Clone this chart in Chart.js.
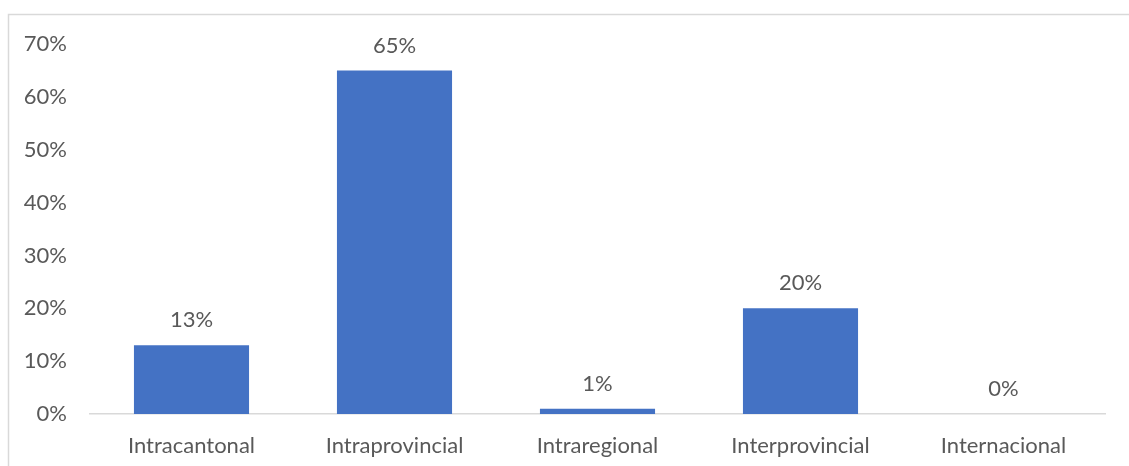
<!DOCTYPE html>
<html>
<head>
<meta charset="utf-8">
<script src="https://cdn.jsdelivr.net/npm/chart.js@4/dist/chart.umd.min.js"></script>
<style>
  html, body { margin: 0; padding: 0; background: #fff; }
  #wrap { width: 1129px; height: 466px; }
</style>
</head>
<body>
<div id="wrap"><canvas id="chart" width="1129" height="466"></canvas></div>
<script>
const categories = ["Intracantonal", "Intraprovincial", "Intraregional", "Interprovincial", "Internacional"];
const shares = [13, 65, 1, 20, 0];
const yTicks = [0, 10, 20, 30, 40, 50, 60, 70];

const BAR = "#4472C4";
const TEXT = "#595959";
const LINE = "#d9d9d9";
const FONT = "Lato, 'Open Sans', sans-serif";
const SIZE = 22;

// light frame round the whole chart
const framePlugin = {
  id: "frame",
  beforeDraw(chart){
    const c = chart.ctx;
    c.save();
    c.strokeStyle = LINE;
    c.lineWidth = 1.5;
    c.strokeRect(8.5, 14.5, chart.width + 20, chart.height + 20);
    c.restore();
  }
};

// value above each bar
const labelPlugin = {
  id: "barLabels",
  afterDatasetsDraw(chart){
    const c = chart.ctx;
    const meta = chart.getDatasetMeta(0);
    c.save();
    c.font = SIZE + "px " + FONT;
    c.fillStyle = TEXT;
    c.textAlign = "center";
    c.textBaseline = "middle";
    meta.data.forEach((bar, i) => {
      c.fillText(shares[i] + "%", bar.x, bar.y - 25);
    });
    c.restore();
  }
};

new Chart(document.getElementById("chart"), {
  type: "bar",
  data: {
    labels: categories,
    datasets: [{
      data: shares,
      backgroundColor: BAR,
      categoryPercentage: 1,
      barPercentage: 0.567
    }]
  },
  options: {
    responsive: false,
    animation: false,
    layout: { padding: { top: 44, right: 24, left: 0, bottom: 0 } },
    plugins: { legend: { display: false }, tooltip: { enabled: false } },
    scales: {
      x: {
        grid: { display: false, drawTicks: false },
        border: { display: true, color: LINE, width: 1.5 },
        ticks: { color: TEXT, font: { family: FONT, size: SIZE }, padding: 19 },
        afterFit(s){ s.height = 52; }
      },
      y: {
        min: 0,
        max: 70,
        afterBuildTicks(s){ s.ticks = yTicks.map(v => ({ value: v })); },
        grid: { display: false, drawTicks: false },
        border: { display: false },
        ticks: {
          color: TEXT,
          font: { family: FONT, size: SIZE },
          padding: 23,
          callback: v => v + "%"
        },
        afterFit(s){ s.width = 90; }
      }
    }
  },
  plugins: [framePlugin, labelPlugin]
});
</script>
</body>
</html>
